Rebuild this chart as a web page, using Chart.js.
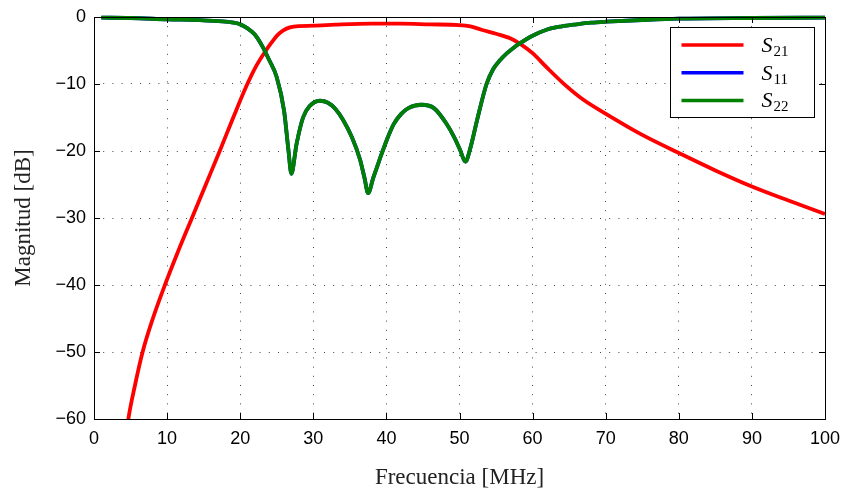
<!DOCTYPE html>
<html>
<head>
<meta charset="utf-8">
<script src="https://cdn.jsdelivr.net/npm/chart.js@4"></script>
<style>
    html, body { margin: 0; padding: 0; background: #ffffff; }
    #wrap { width: 844px; height: 493px; position: relative; }
</style>
</head>
<body>
<div id="wrap"><canvas id="chart"></canvas></div>
<script>
// datos
const xTicks = [0, 10, 20, 30, 40, 50, 60, 70, 80, 90, 100];
const yTicks = [-60, -50, -40, -30, -20, -10, 0];

// S21 (transmisión)
const freqS21 = [1, 3, 4.7, 5.6, 6.65, 8.05, 9.7, 11.5, 13.4, 15.3, 17.2, 19.05, 20.9, 22.2, 23.4, 24.3, 25.1, 25.9, 26.8,
    28, 30, 33, 38, 42, 46, 50, 51.5, 53, 55, 57, 58.3, 60, 62, 64.2, 67, 70.1, 75, 80.2, 85, 90, 95, 100];
const s21 = [-95, -75, -60, -55, -50, -45, -40, -35, -30, -25, -20, -15, -10.2, -7.3, -5.2, -3.8, -2.7, -2.0, -1.55,
    -1.35, -1.3, -1.15, -1.0, -1.0, -1.1, -1.2, -1.4, -1.9, -2.5, -3.2, -4.0, -5.4, -7.6, -9.9, -12.4, -14.5, -17.6, -20.4, -22.9, -25.3, -27.4, -29.4];

// S11 y S22 (reflexión, iguales)
const freqS11 = [1, 5, 10, 15, 18, 20, 21, 22, 23, 24, 25, 26, 26.6, 27.0, 27.7, 28.6, 29.5, 30.9, 32, 33, 34.1,
    35.3, 36.4, 37, 37.5, 38.2, 39, 40, 41, 42, 43, 44.8, 46.5, 48.2, 49.3, 50.1, 50.8, 51.5, 52.4, 53.7,
    54.6, 55.5, 56.5, 57.5, 58.3, 60, 61.9, 64, 66, 68, 70.1, 75, 80, 90, 100];
const s11 = [-0.1, -0.15, -0.35, -0.5, -0.7, -1.1, -1.7, -2.6, -4.3, -6.5, -9.0, -14.0, -19.9, -23.4, -19.0, -15.0, -13.3, -12.5, -12.8, -13.7, -15.4,
    -18.0, -21.3, -24.0, -26.3, -24.0, -21.5, -18.5, -16.0, -14.5, -13.6, -13.1, -13.6, -15.9, -18.0, -19.9, -21.6, -19.5, -15.4, -10.0,
    -7.8, -6.5, -5.4, -4.5, -3.9, -2.8, -1.9, -1.4, -1.1, -0.85, -0.7, -0.45, -0.25, -0.15, -0.1];
const s22 = s11.slice();

const seriesLabels = ['21', '11', '22'];
const seriesColors = ['#ff0000', '#0000ff', '#008000'];

function toPoints(xs, ys) {
    return xs.map((x, i) => ({ x: x, y: ys[i] }));
}

// etiquetas con signo menos
function fmt(v) {
    return v < 0 ? '\u2212' + Math.abs(v) : String(v);
}

// recuadro, marcas hacia dentro y leyenda
const boxPlugin = {
    id: 'boxPlugin',
    afterDatasetsDraw(chart) {
        const ctx = chart.ctx;
        const a = chart.chartArea;
        const xs = chart.scales.x;
        const ys = chart.scales.y;
        const tl = 6;
        ctx.save();
        ctx.strokeStyle = '#000';
        ctx.lineWidth = 1;
        ctx.beginPath();
        xTicks.forEach(v => {
            const px = Math.round(xs.getPixelForValue(v)) + 0.5;
            ctx.moveTo(px, a.bottom); ctx.lineTo(px, a.bottom - tl);
            ctx.moveTo(px, a.top); ctx.lineTo(px, a.top + tl);
        });
        yTicks.forEach(v => {
            const py = Math.round(ys.getPixelForValue(v)) + 0.5;
            ctx.moveTo(a.left, py); ctx.lineTo(a.left + tl, py);
            ctx.moveTo(a.right, py); ctx.lineTo(a.right - tl, py);
        });
        ctx.stroke();
        ctx.strokeRect(Math.round(a.left) + 0.5, Math.round(a.top) + 0.5,
            Math.round(a.right - a.left), Math.round(a.bottom - a.top));

        // leyenda
        const bw = 144, bh = 90;
        const bx = Math.round(a.right - 11 - bw) + 0.5;
        const by = Math.round(a.top + 10) + 0.5;
        ctx.fillStyle = '#fff';
        ctx.fillRect(bx, by, bw, bh);
        ctx.strokeRect(bx, by, bw, bh);
        chart.data.datasets.forEach((ds, i) => {
            const ly = by + 17.5 + i * 27.7;
            ctx.strokeStyle = ds.borderColor;
            ctx.lineWidth = 3.5;
            ctx.beginPath();
            ctx.moveTo(bx + 11, ly);
            ctx.lineTo(bx + 73, ly);
            ctx.stroke();
            ctx.fillStyle = '#000';
            ctx.textBaseline = 'alphabetic';
            ctx.font = 'italic 22px "Liberation Serif"';
            ctx.fillText('S', bx + 91, ly + 7);
            const sw = ctx.measureText('S').width;
            ctx.font = '15px "Liberation Serif"';
            ctx.fillText(seriesLabels[i], bx + 91 + sw + 1, ly + 11);
        });
        ctx.restore();
    }
};

const datasets = [
    { label: 'S21', data: toPoints(freqS21, s21), borderColor: seriesColors[0], order: 2 },
    { label: 'S11', data: toPoints(freqS11, s11), borderColor: seriesColors[1], order: 1 },
    { label: 'S22', data: toPoints(freqS11, s22), borderColor: seriesColors[2], order: 0 }
].map(d => Object.assign(d, {
    borderWidth: 3.8,
    pointRadius: 0,
    fill: false,
    cubicInterpolationMode: 'monotone',
    clip: { left: 0, right: 0, top: 4, bottom: 0 }
}));

new Chart(document.getElementById('chart'), {
    type: 'line',
    data: { datasets: datasets },
    options: {
        responsive: true,
        maintainAspectRatio: false,
        animation: false,
        layout: { padding: { left: 0, right: 19, top: 17, bottom: 0 } },
        plugins: {
            legend: { display: false },
            tooltip: { enabled: false }
        },
        scales: {
            x: {
                type: 'linear',
                min: 0,
                max: 100,
                afterBuildTicks: s => { s.ticks = xTicks.map(v => ({ value: v })); },
                afterFit: s => { s.height = 74; s.paddingLeft = 0; s.paddingRight = 0; },
                grid: { color: '#444', lineWidth: 1, drawTicks: false },
                border: { display: false, dash: [1, 8.2] },
                ticks: {
                    padding: 9,
                    maxRotation: 0,
                    color: '#000',
                    font: { family: '"Liberation Sans"', size: 18 },
                    callback: v => fmt(v)
                },
                title: {
                    display: true,
                    text: 'Frecuencia [MHz]',
                    color: '#222',
                    font: { family: '"Liberation Serif"', size: 23 },
                    padding: { top: 0, bottom: 1 }
                }
            },
            y: {
                type: 'linear',
                min: -60,
                max: 0,
                afterBuildTicks: s => { s.ticks = yTicks.map(v => ({ value: v })); },
                afterFit: s => { s.width = 94; s.paddingTop = 0; s.paddingBottom = 0; },
                grid: { color: '#444', lineWidth: 1, drawTicks: false },
                border: { display: false, dash: [1, 8.2] },
                ticks: {
                    padding: 8,
                    color: '#000',
                    font: { family: '"Liberation Sans"', size: 18 },
                    callback: v => fmt(v)
                },
                title: {
                    display: true,
                    text: 'Magnitud [dB]',
                    color: '#222',
                    font: { family: '"Liberation Serif"', size: 23 },
                    padding: { top: 10, bottom: 0 }
                }
            }
        }
    },
    plugins: [boxPlugin]
});
</script>
</body>
</html>
